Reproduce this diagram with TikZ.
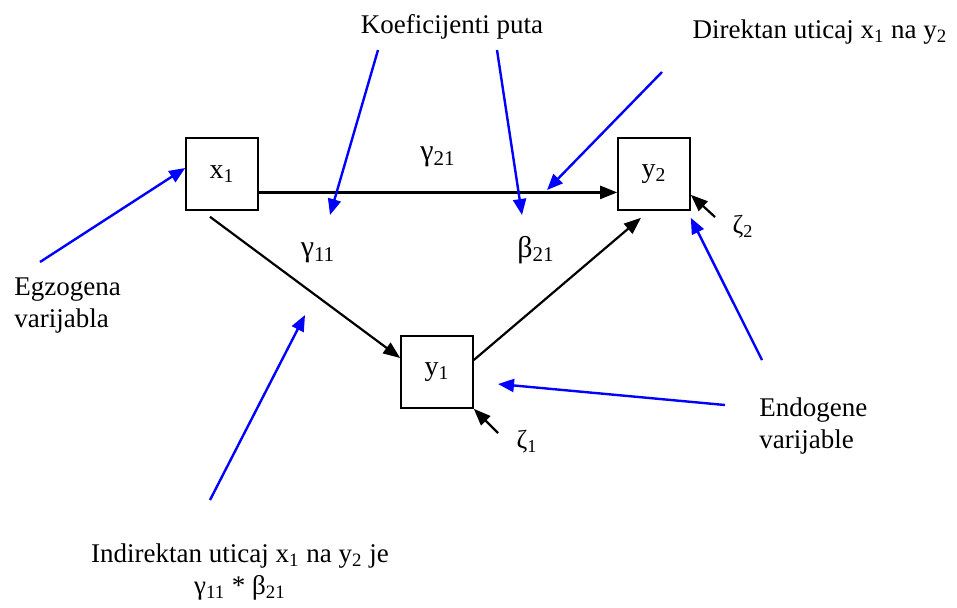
\documentclass[tikz,border=0pt]{standalone}
\usepackage{fontspec}
\setmainfont{Liberation Serif}
\usetikzlibrary{positioning, arrows.meta, calc}

\begin{document}
\begin{tikzpicture}[
    x=0.5pt, y=-0.5pt,
    var/.style={rectangle, draw=black, thick, minimum size=36pt, inner sep=0pt, font=\fontsize{14}{16}\selectfont},
    note/.style={font=\fontsize{13.5}{16}\selectfont, align=left, inner sep=0pt},
    coef/.style={font=\fontsize{15}{17}\selectfont, inner sep=0pt},
    arrow/.style={-{Triangle[length=8.5pt, width=6.5pt]}, line width=1.1pt},
    pointer/.style={-{Triangle[length=8pt, width=6.5pt]}, line width=1.2pt, draw=blue}
]
\useasboundingbox (0,0) rectangle (957,607);

% Variables
\node[var] (x1) at (222,174) {x\textsubscript{1}};
\node[var] (y2) at (654,174) {y\textsubscript{2}};
\node[var] (y1) at (437,372) {y\textsubscript{1}};

% Path coefficients and errors
\node[coef] (g21) at (438,157) {γ\textsubscript{21}};
\node[coef] (g11) at (318,253) {γ\textsubscript{11}};
\node[coef] (b21) at (536,250) {β\textsubscript{21}};
\node[coef, font=\fontsize{13}{15}\selectfont] (z2) at (743,227) {ζ\textsubscript{2}};
\node[coef, font=\fontsize{13}{15}\selectfont] (z1) at (527,442) {ζ\textsubscript{1}};

% Paths
\draw[arrow] ($(x1.south east)!0.25!(x1.north east)$) -- ($(y2.south west)!0.25!(y2.north west)$);
\draw[arrow] ([xshift=-6pt, yshift=-3pt]x1.south) -- ([yshift=7pt]y1.west);
\draw[arrow] ([yshift=6pt]y1.east) -- ([xshift=-6.5pt, yshift=-3.5pt]y2.south);

% Errors
\coordinate (z2tail) at (715,217);
\coordinate (z1tail) at (498,433);
\draw[arrow] (z2tail) -- ([yshift=8pt]y2.south east);
\draw[arrow] (z1tail) -- (y1.south east);

% Notes
\node[note] (koef) at (452,27) {Koeficijenti puta};
\node[note] (direkt) at (820,32) {Direktan uticaj x\textsubscript{1} na y\textsubscript{2}};
\node[note, anchor=west] (egzo) at (14,306) {Egzogena\\varijabla};
\node[note, anchor=west] (endo) at (759,426) {Endogene\\varijable};
\node[note, align=center] (indirekt) at (240,572) {Indirektan uticaj x\textsubscript{1} na y\textsubscript{2} je\\γ\textsubscript{11} * β\textsubscript{21}};

% Pointers
\coordinate (egzotail) at (40,262);
\coordinate (koefl) at (378,50);
\coordinate (koefr) at (497,50);
\coordinate (direkttail) at (662,72);
\coordinate (endo2) at (762,360);
\coordinate (endo1) at (725,405);
\coordinate (indirekttail) at (210,500);
\coordinate (g11tip) at (330,215);
\coordinate (b21tip) at (522,215);
\coordinate (direkttip) at (547,190);
\coordinate (y1tip) at (498,384);
\coordinate (g11b21tip) at (305,315);

\draw[pointer] (egzotail) -- ([yshift=3pt]x1.west);
\draw[pointer] (koefl) -- (g11tip);
\draw[pointer] (koefr) -- (b21tip);
\draw[pointer] (direkttail) -- (direkttip);
\draw[pointer] (endo2) -- ([yshift=-3.5pt]y2.south east);
\draw[pointer] (endo1) -- (y1tip);
\draw[pointer] (indirekttail) -- (g11b21tip);

\end{tikzpicture}
\end{document}
